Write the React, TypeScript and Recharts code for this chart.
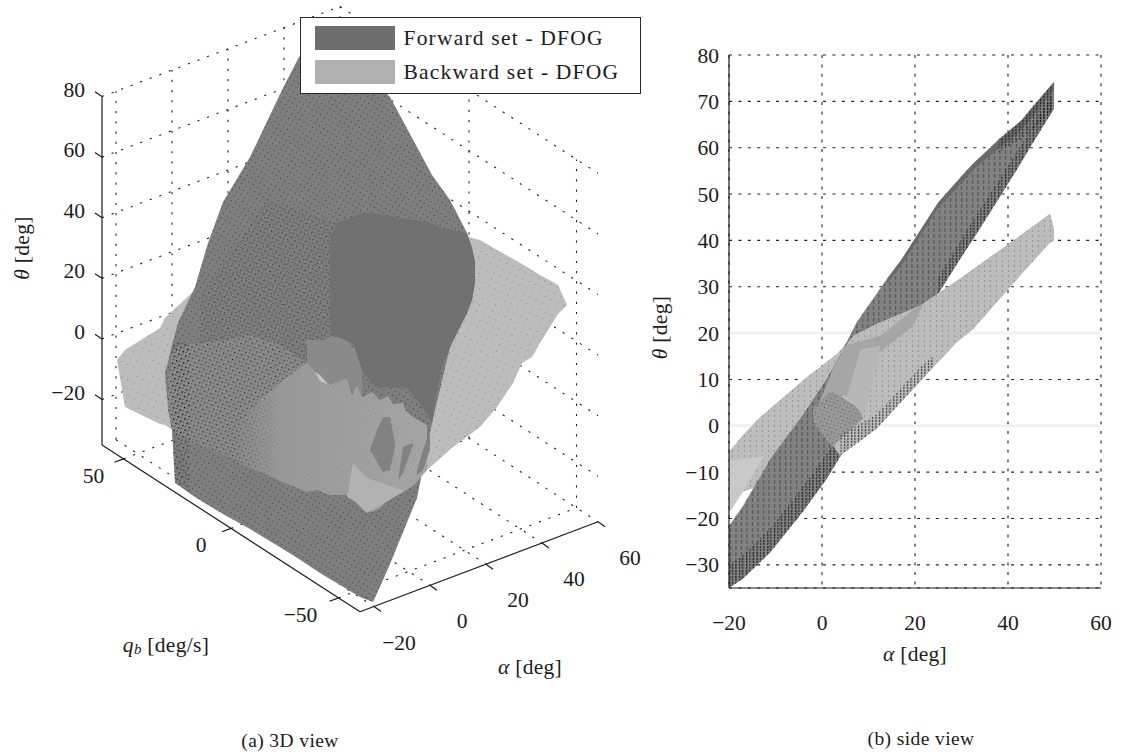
import { Area, CartesianGrid, ComposedChart, Label, Legend, ReferenceDot, ReferenceLine, XAxis, YAxis } from "recharts";

// tick values
const THETA_TICKS_3D = [80, 60, 40, 20, 0, -20];
const ALPHA_TICKS_3D = [-20, 0, 20, 40, 60];
const Q_TICKS_3D = [50, 0, -50];
const ALPHA_TICKS = [-20, 0, 20, 40, 60];
const THETA_TICKS = [-30, -20, -10, 0, 10, 20, 30, 40, 50, 60, 70, 80];

const LEGEND_LABELS = ["Forward set - DFOG", "Backward set - DFOG"];

const FWD_U = [165, 168, 172, 175, 178, 195, 208, 223, 250, 283, 299, 320, 335, 360, 373, 383, 390, 417, 432, 450, 467, 472, 475];
const FWD_TOP = [373, 362, 345, 334, 323, 287, 243, 202, 157, 88, 57, 30, 18, 50, 70, 90, 97, 147, 175, 200, 233, 248, 262];
const FWD_BOT = [373, 407, 430, 483, 485, 497, 505, 514, 529, 549, 559, 573, 582, 597, 602, 580, 564, 498, 423, 347, 313, 300, 282];

const BWD_U = [117, 125, 160, 165, 195, 300, 427, 453, 468, 480, 497, 513, 522, 532, 540, 553, 558, 567];
const BWD_TOP = [360, 350, 328, 318, 290, 265, 240, 240, 237, 240, 250, 259, 264, 270, 275, 282, 285, 305];
const BWD_BOT = [360, 407, 424, 425, 445, 490, 470, 447, 436, 427, 407, 383, 363, 357, 343, 322, 314, 305];

const DARK_U = [330, 337, 353, 363, 377, 407, 427, 432, 437, 443, 452, 467, 472, 475];
const DARK_TOP = [237, 223, 217, 212, 214, 219, 222, 224, 226, 228, 230, 233, 248, 262];
const DARK_BOT = [330, 337, 343, 373, 387, 388, 413, 423, 390, 363, 343, 313, 300, 282];

const MID_U = [200, 210, 240, 267, 300, 317, 330, 337];
const MID_TOP = [300, 283, 240, 200, 210, 216, 220, 223];
const MID_BOT = [345, 345, 345, 345, 358, 373, 385, 383];

const STEP_U = [307, 323, 330, 337, 347, 352, 357, 362];
const STEP_TOP = [340, 340, 336, 337, 340, 348, 345, 372];
const STEP_BOT = [363, 383, 386, 383, 378, 392, 393, 395];

const FRONT_LEFT_U = [168, 172, 180, 227, 247, 277, 307];
const FRONT_LEFT_TOP = [380, 352, 345, 340, 335, 343, 363];
const FRONT_LEFT_BOT = [410, 430, 435, 457, 466, 479, 492];

const FRONT_U = [233, 260, 290, 307, 317, 330, 347, 352, 357, 362, 372, 380, 388, 393, 403, 405, 413, 427];
const FRONT_TOP = [430, 400, 375, 363, 373, 385, 378, 395, 385, 397, 392, 400, 396, 404, 403, 410, 417, 425];
const FRONT_BOT = [462, 472, 485, 492, 490, 495, 495, 500, 503, 507, 512, 508, 500, 497, 492, 491, 486, 470];

const HOLE1_U = [370, 377, 383, 390, 395];
const HOLE1_TOP = [450, 430, 417, 417, 443];
const HOLE1_BOT = [450, 462, 472, 470, 447];
const HOLE2_U = [398, 403, 413];
const HOLE2_TOP = [480, 447, 443];
const HOLE2_BOT = [480, 473, 445];
const HOLE3_U = [417, 423, 430];
const HOLE3_TOP = [470, 450, 430];
const HOLE3_BOT = [475, 470, 450];
const WEDGE_U = [347, 353, 367, 403];
const WEDGE_TOP = [497, 463, 478, 490];
const WEDGE_BOT = [497, 500, 513, 492];
const SLIVER_U = [315, 320, 327];
const SLIVER_TOP = [372, 375, 383];
const SLIVER_BOT = [372, 381, 384];
const DENSE_U = [172, 175, 178, 190];
const DENSE_TOP = [345, 345, 340, 345];
const DENSE_BOT = [430, 483, 485, 492];

// right panel: alpha [deg], theta [deg]
const SIDE_FWD_A = [-20, -17, -11, -4, 1, 4, 7.5, 14, 17, 25, 31, 33, 38, 43, 45, 49.9];
const SIDE_FWD_TOP = [-21.6, -17.3, -7, 2.5, 10.1, 15.5, 22.4, 31.7, 35.7, 48.2, 55, 57, 61.8, 66, 68.5, 74.2];
const SIDE_FWD_BOT = [-35, -33, -27.2, -18.4, -11.5, -6.5, -0.5, 11, 16, 28.5, 38, 41, 49, 57, 60.5, 68.4];

const SIDE_BWD_A = [-20, -17, -13.3, -3.2, 3.2, 6.7, 11.8, 21, 29, 32.5, 42.6, 49, 49.9];
const SIDE_BWD_TOP = [-5.6, -2, 1.9, 10.6, 15.5, 19.4, 22, 25.9, 31.3, 33.8, 41, 45.7, 42.5];
const SIDE_BWD_BOT = [-18.6, -14.2, -13, -9, -6.5, -4.3, -0.6, 9.5, 18, 20.9, 32.4, 39.5, 39.9];

const SIDE_FRONT_A = [-1.9, 2.4, 3.9, 4.5, 6.7, 11.8, 21, 29, 32.5, 42.6, 49, 49.9];
const SIDE_FRONT_TOP = [1.5, 12.3, 15, 16.4, 19.4, 22, 25.9, 31.3, 33.8, 41, 45.7, 42.5];
const SIDE_FRONT_BOT = [1.5, -4.3, -6.5, -6, -4.3, -0.6, 9.5, 18, 20.9, 32.4, 39.5, 39.9];

const SIDE_UPPER_A = [-1.9, 2.4, 4.5, 5.4, 11, 12.5, 19.6, 21.7];
const SIDE_UPPER_TOP = [1.5, 12.3, 16.2, 17.5, 19, 19.4, 25, 26.3];
const SIDE_UPPER_BOT = [1.5, 5, 6.5, 6.5, 15, 16, 21.6, 26];

const SIDE_MED_A = [-1.9, 1.7, 2.4, 8.2, 8.8];
const SIDE_MED_TOP = [3.7, 7.3, 7.3, 3.7, 1.5];
const SIDE_MED_BOT = [0.9, -4, -4.3, 1, 1.5];

const SIDE_PALE_A = [5.4, 8.2, 8.8, 11.8, 12.5];
const SIDE_PALE_TOP = [6.5, 16.2, 16.6, 17, 17.3];
const SIDE_PALE_BOT = [6.5, 3, 2.2, 12.3, 17.3];

const SIDE_LEFT_A = [-19.8, -17, -12.7];
const SIDE_LEFT_TOP = [-7.5, -7.2, -6.5];
const SIDE_LEFT_BOT = [-18.6, -14.2, -7];

const SIDE_EDGE_A = [-20, -17, -11, -4, 1, 4];
const SIDE_EDGE_TOP = [-30, -28, -22, -13, -6, -2];
const SIDE_EDGE_BOT = [-35, -33, -27.2, -18.4, -11.5, -6.5];

const SIDE_TICKS_A = [4, 11.8, 21, 24];
const SIDE_TICKS_TOP = [-2, 2.5, 12.5, 15];
const SIDE_TICKS_BOT = [-6.5, -0.6, 9.5, 13];

const SIDE_RIDGE_A = [14, 17, 25, 33, 43, 49.9];
const SIDE_RIDGE_TOP = [31.7, 35.7, 48.2, 57, 66, 74.2];
const SIDE_RIDGE_BOT = [30.7, 34.5, 47, 55.7, 64, 72.5];

const SIDE_TIP_A = [38, 43, 45, 49.9];
const SIDE_TIP_TOP = [61.8, 66, 68.5, 74.2];
const SIDE_TIP_BOT = [59, 62, 63.5, 68.4];

const SIDE_LOWER_A = [25, 31, 38, 45, 49.9];
const SIDE_LOWER_TOP = [32, 42, 53, 64, 72];
const SIDE_LOWER_BOT = [28.5, 38, 49, 60.5, 68.4];

const band = (xs: number[], tops: number[], bots: number[]) =>
  xs.map((x, i) => ({ x, range: [tops[i], bots[i]] }));

// 3D box projected on the page
const project = (alpha: number, q: number, theta: number) => ({
  x: 102 + (alpha + 25) * 2.8 + (60 - q) * 2.15,
  y: 445 - (alpha + 25) * 1.059 + (60 - q) * 1.39 - (theta + 35) * 3.03,
});

const gridSegments3D = [
  ...ALPHA_TICKS_3D.map((a) => [project(a, 60, -35), project(a, 60, 80)]),
  ...THETA_TICKS_3D.map((t) => [project(-25, 60, t), project(60, 60, t)]),
  ...Q_TICKS_3D.map((q) => [project(60, q, -35), project(60, q, 80)]),
  ...THETA_TICKS_3D.map((t) => [project(60, 60, t), project(60, -60, t)]),
  ...ALPHA_TICKS_3D.map((a) => [project(a, 60, -35), project(a, -60, -35)]),
  ...Q_TICKS_3D.map((q) => [project(-25, q, -35), project(60, q, -35)]),
];

const axisSegments3D = [
  [project(-25, 60, -35), project(-25, 60, 80)],
  [project(-25, 60, -35), project(-25, -60, -35)],
  [project(-25, -60, -35), project(60, -60, -35)],
];

const tickSegments3D = [
  ...THETA_TICKS_3D.map((t) => {
    const p = project(-25, 60, t);
    return [p, { x: p.x - 7, y: p.y - 4.7 }];
  }),
  ...Q_TICKS_3D.map((q) => {
    const p = project(-25, q, -35);
    return [p, { x: p.x - 9, y: p.y + 3.4 }];
  }),
  ...ALPHA_TICKS_3D.map((a) => {
    const p = project(a, -60, -35);
    return [p, { x: p.x + 7, y: p.y + 5 }];
  }),
];

const FONT = "'Liberation Serif', serif";
const INK = "#1c1c1c";
const minus = (v: number) => String(v).replace("-", "\u2212");

const Patterns = () => (
  <defs>
    <linearGradient id="frontFade" x1="0" y1="0" x2="1" y2="0">
      <stop offset="0" stopColor="#9a9a9a" stopOpacity="0" />
      <stop offset="0.25" stopColor="#9a9a9a" stopOpacity="1" />
      <stop offset="1" stopColor="#a6a6a6" stopOpacity="1" />
    </linearGradient>
    <pattern id="dotsFine" width="5" height="5" patternUnits="userSpaceOnUse" patternTransform="rotate(32)">
      <rect x="2" y="2" width="1" height="1" fill="#000" fillOpacity="0.5" />
    </pattern>
    <pattern id="dotsTiny" width="3.5" height="3.5" patternUnits="userSpaceOnUse" patternTransform="rotate(32)">
      <rect x="1" y="1" width="1" height="1" fill="#000" fillOpacity="0.14" />
    </pattern>
    <pattern id="dotsMid" width="5" height="5" patternUnits="userSpaceOnUse" patternTransform="rotate(-28)">
      <rect x="1" y="1" width="1.1" height="1.1" fill="#000" fillOpacity="0.5" />
      <rect x="3.5" y="3" width="1" height="1" fill="#000" fillOpacity="0.3" />
    </pattern>
    <pattern id="dotsHeavy" width="5" height="5" patternUnits="userSpaceOnUse" patternTransform="rotate(-28)">
      <rect x="1" y="1" width="1.2" height="1.2" fill="#000" fillOpacity="0.75" />
      <rect x="3.5" y="3" width="1" height="1" fill="#000" fillOpacity="0.45" />
    </pattern>
    <pattern id="dotsPale" width="7" height="7" patternUnits="userSpaceOnUse" patternTransform="rotate(25)">
      <rect x="3" y="3" width="1" height="1" fill="#000" fillOpacity="0.25" />
    </pattern>
    <pattern id="streaks" width="5.5" height="6" patternUnits="userSpaceOnUse">
      <rect x="2" y="0" width="1" height="4" fill="#000" fillOpacity="0.4" />
    </pattern>
    <pattern id="streaksPale" width="6" height="5" patternUnits="userSpaceOnUse">
      <rect x="2" y="0" width="1" height="2" fill="#000" fillOpacity="0.2" />
    </pattern>
    <pattern id="streaksDark" width="3.5" height="3" patternUnits="userSpaceOnUse">
      <rect x="1" y="0" width="1" height="2.2" fill="#000" fillOpacity="0.75" />
    </pattern>
  </defs>
);

const Surface = ({ data, fill, name }: any) => (
  <Area
    data={data}
    dataKey="range"
    name={name}
    fill={fill}
    fillOpacity={1}
    stroke="none"
    type="linear"
    dot={false}
    activeDot={false}
    legendType="none"
    isAnimationActive={false}
  />
);

const LegendBox = () => (
  <div style={{ position: "relative", width: 341, height: 77, boxSizing: "border-box", border: "1.5px solid #2a2a2a", background: "#fff", fontFamily: FONT, fontSize: 21.5, letterSpacing: 1.2, color: INK }}>
    {LEGEND_LABELS.map((label, i) => (
      <div key={label}>
        <div style={{ position: "absolute", left: 13.5, top: 7.5 + i * 34, width: 80, height: 24, background: i === 0 ? "#6e6e6e" : "#b0b0b0" }} />
        <div style={{ position: "absolute", left: 102.5, top: 7.5 + i * 34, whiteSpace: "nowrap", lineHeight: "24px" }}>{label}</div>
      </div>
    ))}
  </div>
);

const put = (x: number, y: number, key: string, content: any, anchor = "middle", size = 21.5, spacing = 0, angle = 0) => (
  <ReferenceDot
    key={key}
    x={x}
    y={y}
    r={0}
    ifOverflow="visible"
    shape={(p: any) => (
      <text x={p.cx} y={p.cy} transform={angle ? `rotate(${angle} ${p.cx} ${p.cy})` : undefined} textAnchor={anchor} dominantBaseline="central" fontSize={size} letterSpacing={spacing} fontFamily={FONT} fill={INK}>
        {content}
      </text>
    )}
  />
);

const ThreeDView = () => {
  const seg = (s: any[], key: string, props: any) => (
    <ReferenceLine key={key} segment={s} ifOverflow="visible" zIndex={-50} {...props} />
  );
  return (
    <ComposedChart width={660} height={753} margin={{ top: 0, right: 0, bottom: 0, left: 0 }} style={{ position: "absolute", left: 0, top: 0 }}>
      <Patterns />
      <XAxis dataKey="x" type="number" domain={[0, 660]} hide />
      <YAxis type="number" domain={[0, 753]} reversed hide />
      {gridSegments3D.map((s, i) => seg(s, `g${i}`, { stroke: "#222", strokeWidth: 1.1, strokeDasharray: "2.2 8" }))}
      {axisSegments3D.map((s, i) => seg(s, `a${i}`, { stroke: INK, strokeWidth: 1.2 }))}
      {tickSegments3D.map((s, i) => seg(s, `t${i}`, { stroke: INK, strokeWidth: 1.2 }))}

      {Surface({ data: band(BWD_U, BWD_TOP, BWD_BOT), fill: "#bcbcbc", name: "Backward set - DFOG" })}
      {Surface({ data: band(BWD_U, BWD_TOP, BWD_BOT), fill: "url(#dotsPale)" })}
      {Surface({ data: band(FWD_U, FWD_TOP, FWD_BOT), fill: "#7e7e7e", name: "Forward set - DFOG" })}
      {Surface({ data: band(FWD_U, FWD_TOP, FWD_BOT), fill: "url(#dotsFine)" })}
      {Surface({ data: band(MID_U, MID_TOP, MID_BOT), fill: "url(#dotsMid)" })}
      {Surface({ data: band(STEP_U, STEP_TOP, STEP_BOT), fill: "#8a8a8a" })}
      {Surface({ data: band(DARK_U, DARK_TOP, DARK_BOT), fill: "#727272" })}
      {Surface({ data: band(DARK_U, DARK_TOP, DARK_BOT), fill: "url(#dotsTiny)" })}
      {Surface({ data: band(FRONT_LEFT_U, FRONT_LEFT_TOP, FRONT_LEFT_BOT), fill: "#8a8a8a" })}
      {Surface({ data: band(FRONT_LEFT_U, FRONT_LEFT_TOP, FRONT_LEFT_BOT), fill: "url(#dotsHeavy)" })}
      {Surface({ data: band(FRONT_U, FRONT_TOP, FRONT_BOT), fill: "url(#frontFade)" })}
      {Surface({ data: band(FRONT_U, FRONT_TOP, FRONT_BOT), fill: "url(#dotsTiny)" })}
      {Surface({ data: band(HOLE1_U, HOLE1_TOP, HOLE1_BOT), fill: "#828282" })}
      {Surface({ data: band(HOLE2_U, HOLE2_TOP, HOLE2_BOT), fill: "#828282" })}
      {Surface({ data: band(HOLE3_U, HOLE3_TOP, HOLE3_BOT), fill: "#828282" })}
      {Surface({ data: band(WEDGE_U, WEDGE_TOP, WEDGE_BOT), fill: "#b2b2b2" })}
      {Surface({ data: band(SLIVER_U, SLIVER_TOP, SLIVER_BOT), fill: "#c6c6c6" })}
      {Surface({ data: band(DENSE_U, DENSE_TOP, DENSE_BOT), fill: "url(#dotsHeavy)" })}

      {THETA_TICKS_3D.map((t) => {
        const p = project(-25, 60, t);
        return put(85, p.y - 7, `lt${t}`, minus(t), "end");
      })}
      {Q_TICKS_3D.map((q) => {
        const p = project(-25, q, -35);
        return put(p.x - 30 - (q < 0 ? 8 : 0), p.y + 17, `lq${q}`, minus(q));
      })}
      {ALPHA_TICKS_3D.map((a) => {
        const p = project(a, -60, -35);
        return put(p.x + 32 - (a < 0 ? 7 : 0), p.y + 36, `la${a}`, minus(a));
      })}
      {put(22, 248, "ylab", <><tspan fontStyle="italic">θ</tspan> [deg]</>, "middle", 21.5, 0.3, -90)}
      {put(166, 645, "qlab", <><tspan fontStyle="italic">q</tspan><tspan fontStyle="italic" fontSize="15" dy="4">b</tspan><tspan dy="-4"> [deg/s]</tspan></>, "middle", 21.5, 0.3)}
      {put(530, 667, "alab", <><tspan fontStyle="italic">α</tspan> [deg]</>, "middle", 21.5, 0.3)}
      {put(290, 740, "cap", "(a) 3D view", "middle", 19.5, 0.4)}

      <Legend
        layout="vertical"
        align="center"
        verticalAlign="middle"
        width={341}
        height={77}
        wrapperStyle={{ left: 300, top: 17 }}
        content={() => <LegendBox />}
      />
    </ComposedChart>
  );
};

const SideView = () => (
  <ComposedChart width={482} height={753} margin={{ top: 55, right: 21, bottom: 0, left: 0 }} style={{ position: "absolute", left: 640, top: 0 }}>
    <Patterns />
    <CartesianGrid stroke="#222" strokeWidth={1.1} strokeDasharray="3 6.4" />
    <XAxis
      dataKey="x"
      type="number"
      domain={[-20, 60]}
      ticks={ALPHA_TICKS}
      height={165}
      allowDataOverflow
      tickLine={false}
      tickSize={6}
      tickMargin={21}
      tickFormatter={minus}
      tick={{ fontSize: 21.5, fontFamily: FONT, fill: INK }}
      axisLine={{ stroke: INK, strokeWidth: 1.2 }}
    >
      <Label
        content={({ viewBox }: any) => (
          <text x={viewBox.x + viewBox.width / 2} y={viewBox.y + 73} textAnchor="middle" fontSize={21.5} letterSpacing={0.3} fontFamily={FONT} fill={INK}>
            <tspan fontStyle="italic">α</tspan> [deg]
          </text>
        )}
      />
      <Label
        content={({ viewBox }: any) => (
          <text x={viewBox.x + viewBox.width / 2 + 6} y={viewBox.y + 157} textAnchor="middle" fontSize={19.5} letterSpacing={0.4} fontFamily={FONT} fill={INK}>
            (b) side view
          </text>
        )}
      />
    </XAxis>
    <YAxis
      type="number"
      domain={[-35, 80]}
      ticks={THETA_TICKS}
      width={89}
      allowDataOverflow
      tickLine={false}
      tickSize={6}
      tickMargin={4}
      tickFormatter={minus}
      tick={{ fontSize: 21.5, fontFamily: FONT, fill: INK }}
      axisLine={{ stroke: INK, strokeWidth: 1.2 }}
    >
      <Label
        content={({ viewBox }: any) => (
          <text transform={`translate(27 ${viewBox.y + viewBox.height / 2})  rotate(-90)`} x={-6} textAnchor="middle" fontSize={21.5} letterSpacing={0.3} fontFamily={FONT} fill={INK}>
            <tspan fontStyle="italic">θ</tspan> [deg]
          </text>
        )}
      />
    </YAxis>

    <ReferenceLine y={0} stroke="#f2f2f2" strokeWidth={3} zIndex={-60} />
    <ReferenceLine y={20} stroke="#f2f2f2" strokeWidth={3} zIndex={-60} />

    {Surface({ data: band(SIDE_BWD_A, SIDE_BWD_TOP, SIDE_BWD_BOT), fill: "#bdbdbd", name: "Backward set - DFOG" })}
    {Surface({ data: band(SIDE_BWD_A, SIDE_BWD_TOP, SIDE_BWD_BOT), fill: "url(#streaksPale)" })}
    {Surface({ data: band(SIDE_LEFT_A, SIDE_LEFT_TOP, SIDE_LEFT_BOT), fill: "#c9c9c9" })}
    {Surface({ data: band(SIDE_FWD_A, SIDE_FWD_TOP, SIDE_FWD_BOT), fill: "#828282", name: "Forward set - DFOG" })}
    {Surface({ data: band(SIDE_FWD_A, SIDE_FWD_TOP, SIDE_FWD_BOT), fill: "url(#streaks)" })}
    {Surface({ data: band(SIDE_RIDGE_A, SIDE_RIDGE_TOP, SIDE_RIDGE_BOT), fill: "#6a6a6a" })}
    {Surface({ data: band(SIDE_TIP_A, SIDE_TIP_TOP, SIDE_TIP_BOT), fill: "url(#streaksDark)" })}
    {Surface({ data: band(SIDE_LOWER_A, SIDE_LOWER_TOP, SIDE_LOWER_BOT), fill: "url(#streaksDark)" })}
    {Surface({ data: band(SIDE_EDGE_A, SIDE_EDGE_TOP, SIDE_EDGE_BOT), fill: "url(#streaksDark)" })}
    {Surface({ data: band(SIDE_FRONT_A, SIDE_FRONT_TOP, SIDE_FRONT_BOT), fill: "#bcbcbc" })}
    {Surface({ data: band(SIDE_FRONT_A, SIDE_FRONT_TOP, SIDE_FRONT_BOT), fill: "url(#streaksPale)" })}
    {Surface({ data: band(SIDE_UPPER_A, SIDE_UPPER_TOP, SIDE_UPPER_BOT), fill: "#a6a6a6" })}
    {Surface({ data: band(SIDE_MED_A, SIDE_MED_TOP, SIDE_MED_BOT), fill: "#999999" })}
    {Surface({ data: band(SIDE_MED_A, SIDE_MED_TOP, SIDE_MED_BOT), fill: "url(#dotsMid)" })}
    {Surface({ data: band(SIDE_PALE_A, SIDE_PALE_TOP, SIDE_PALE_BOT), fill: "#b7b7b7" })}
    {Surface({ data: band(SIDE_TICKS_A, SIDE_TICKS_TOP, SIDE_TICKS_BOT), fill: "url(#streaksDark)" })}
  </ComposedChart>
);

export default function App() {
  return (
    <div style={{ position: "absolute", left: 0, top: 0, width: 1122, height: 753, background: "#fff" }}>
      <ThreeDView />
      <SideView />
    </div>
  );
}
